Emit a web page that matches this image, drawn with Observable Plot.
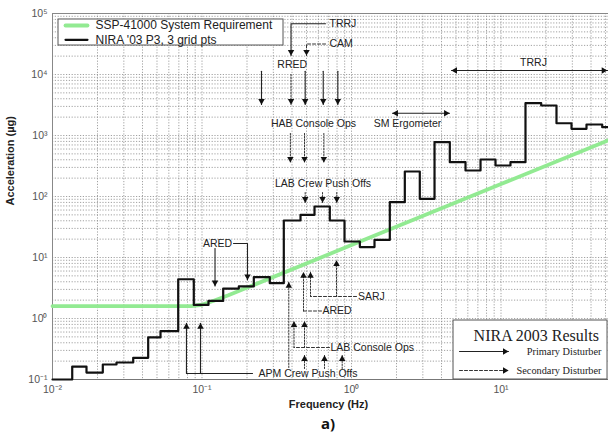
<!DOCTYPE html>
<html><head><meta charset="utf-8">
<script src="https://cdn.jsdelivr.net/npm/d3@7"></script>
<script src="https://cdn.jsdelivr.net/npm/@observablehq/plot@0.6"></script>
<style>
body{margin:0;background:#fff;width:608px;height:439px;overflow:hidden;position:relative;font-family:'Liberation Sans',Arial,sans-serif}
#cap{position:absolute;left:48px;top:413px;width:560px;text-align:center;font:bold 15px 'Noto Sans','DejaVu Sans',sans-serif;line-height:20px;color:#111}
</style></head>
<body><div id="chart"></div><div id="cap">a)</div>
<script>
// ---- data ----
const freqEdges = [0.01, 0.01355, 0.01688, 0.0217, 0.0268, 0.03466, 0.04365, 0.05278, 0.06932, 0.08813,
  0.1105, 0.1386, 0.1763, 0.2221, 0.2841, 0.3525, 0.456, 0.5656, 0.716, 0.8979,
  1.137, 1.425, 1.804, 2.273, 2.863, 3.592, 4.545, 5.788, 7.295, 9.188,
  11.57, 14.58, 18.57, 23.5, 29.62, 37.31, 47.53, 52.36];
const niraLevels = [0.1, 0.163, 0.13, 0.176, 0.19, 0.227, 0.49, 0.62, 4.4, 1.67,
  1.94, 3.1, 3.35, 4.75, 3.8, 40.4, 50, 68.5, 40.4, 18.3,
  14.8, 19.4, 80.7, 257, 91.7, 776, 365, 267, 404, 322,
  365, 3388, 3105, 1588, 1288, 1514, 1368];
const reqFreq = [0.01, 0.085, 0.1, 0.12, 0.15, 1, 10, 52.36];
const reqAccel = [1.6, 1.6, 1.68, 1.95, 2.4, 16, 160, 838];
const xTicks = [0.01, 0.1, 1, 10];
const xTickLabels = ["10⁻²", "10⁻¹", "10⁰", "10¹"];
const yTicks = [0.1, 1, 10, 100, 1000, 1e4, 1e5];
const yTickLabels = ["10⁻¹", "10⁰", "10¹", "10²", "10³", "10⁴", "10⁵"];
const seriesNames = ["SSP-41000 System Requirement", "NIRA '03 P3, 3 grid pts"];

const xDomain = [0.01, 52.36], yDomain = [0.1, 1e5];
const stepRows = freqEdges.map((f, i) => ({f, a: niraLevels[Math.min(i, niraLevels.length - 1)]}));
const reqRows = reqFreq.map((f, i) => ({f, a: reqAccel[i]}));
const gridX = d3.scaleLog().domain(xDomain).ticks();
const gridY = d3.scaleLog().domain(yDomain).ticks();

// ---- annotation geometry (data units: Hz, µg) ----
let pid = 0;
const P = (style, pts) => { pid++; return pts.map(([f, a]) => ({id: pid, style, f, a})); };
const paths = [
  ...P("solid", [[0.67, 67800], [0.394, 67800], [0.394, 20500]]),
  ...P("solid", [[0.25, 11300], [0.25, 3220]]),
  ...P("solid", [[0.49, 11300], [0.49, 3220]]),
  ...P("solid", [[0.647, 11300], [0.647, 3220]]),
  ...P("solid", [[0.81, 11300], [0.81, 3220]]),
  ...P("solid", [[0.1222, 14.05], [0.1222, 3.41]]),
  ...P("solid", [[0.1625, 16.96], [0.2015, 16.96], [0.2015, 4.28]]),
  ...P("solid", [[0.2177, 0.1254], [0.0787, 0.1254], [0.0787, 0.8375]]),
  ...P("solid", [[0.0977, 0.1254], [0.0977, 0.8375]]),
  ...P("solid", [[4.666, 11630], [52.36, 11630]]),
  ...P("solid", [[1.88, 2320], [4.524, 2320]]),
  ...P("dash", [[0.6704, 31620], [0.5, 31620], [0.5, 20500]]),
  ...P("dash", [[0.7123, 0.3346], [0.4125, 0.3346]]),
  ...P("dash", [[0.63, 1.327], [0.4775, 1.327]]),
  ...P("dash", [[1.08, 2.295], [0.5318, 2.295]]),
  ...P("dot", [[0.394, 10000], [0.394, 3220]]),
  ...P("dot", [[0.39, 1080], [0.39, 361]]),
  ...P("dot", [[0.485, 1080], [0.485, 361]]),
  ...P("dot", [[0.653, 1080], [0.653, 361]]),
  ...P("dot", [[0.49, 116], [0.49, 79.7]]),
  ...P("dot", [[0.64, 116], [0.64, 79.7]]),
  ...P("dot", [[0.797, 116], [0.797, 79.7]]),
  ...P("dot", [[0.3806, 0.1573], [0.3806, 3.937]]),
  ...P("dot", [[0.4125, 0.3346], [0.4125, 0.893]]),
  ...P("dot", [[0.4848, 0.3346], [0.4848, 0.893]]),
  ...P("dot", [[0.4775, 1.327], [0.4775, 5.741]]),
  ...P("dot", [[0.5318, 2.295], [0.5318, 5.741]]),
  ...P("dot", [[0.7937, 2.295], [0.7937, 8.93]]),
  ...P("dot", [[0.4848, 0.1514], [0.4848, 0.2474]]),
  ...P("dot", [[0.6598, 0.1514], [0.6598, 0.2474]]),
  ...P("dot", [[0.8665, 0.1514], [0.8665, 0.2474]])
];
const heads = [
  [0.394, 20500, "down"], [0.5, 20500, "down"],
  [0.25, 3220, "down"], [0.394, 3220, "down"], [0.49, 3220, "down"], [0.647, 3220, "down"], [0.81, 3220, "down"],
  [0.39, 361, "down"], [0.485, 361, "down"], [0.653, 361, "down"],
  [0.49, 79.7, "down"], [0.64, 79.7, "down"], [0.797, 79.7, "down"],
  [0.1222, 3.41, "down"], [0.2015, 4.28, "down"],
  [0.0787, 0.8375, "up"], [0.0977, 0.8375, "up"],
  [0.3806, 3.937, "up"], [0.4125, 0.893, "up"], [0.4848, 0.893, "up"],
  [0.4775, 5.741, "up"], [0.5318, 5.741, "up"], [0.7937, 8.93, "up"],
  [0.4848, 0.2474, "up"], [0.6598, 0.2474, "up"], [0.8665, 0.2474, "up"],
  [4.666, 11630, "left"], [51.3, 11630, "right"],
  [1.88, 2320, "left"], [4.524, 2320, "right"]
].map(([f, a, dir]) => ({f, a, dir}));
const labels = [
  [0.7123, 67800, "TRRJ", "start"], [0.7123, 31620, "CAM", "start"],
  [0.4012, 14580, "RRED", "middle"], [0.5569, 1591, "HAB Console Ops", "middle"],
  [0.645, 160, "LAB Crew Push Offs", "middle"], [0.127, 16.96, "ARED", "middle"],
  [0.2387, 0.1254, "APM Crew Push Offs", "start"], [0.7237, 0.3346, "LAB Console Ops", "start"],
  [0.6397, 1.327, "ARED", "start"], [1.105, 2.295, "SARJ", "start"],
  [16.5, 15910, "TRRJ", "middle"], [2.369, 1591, "SM Ergometer", "middle"]
].map(([f, a, t, anchor]) => ({f, a, t, anchor}));
const rot = {down: 180, up: 0, left: -90, right: 90};
const off = {down: [0, -3.6], up: [0, 3.6], left: [3.6, 0], right: [-3.6, 0]};
const headMarks = Object.keys(rot).map(dir => Plot.dot(heads.filter(d => d.dir === dir), {
  x: "f", y: "a", symbol: "triangle", r: 2.4, fill: "#111", stroke: "none",
  rotate: rot[dir], dx: off[dir][0], dy: off[dir][1]
}));
const labelMarks = ["start", "middle"].map(anchor => Plot.text(labels.filter(d => d.anchor === anchor), {
  x: "f", y: "a", text: "t", textAnchor: anchor, fontSize: 10.5, fill: "#222"
}));

const chart = Plot.plot({
  width: 608, height: 414,
  marginLeft: 52, marginRight: 0, marginTop: 13, marginBottom: 35,
  style: {fontFamily: "'Liberation Sans', Arial, sans-serif", background: "#fff"},
  x: {type: "log", domain: xDomain},
  y: {type: "log", domain: yDomain},
  marks: [
    Plot.ruleX(gridX, {stroke: "#8a8a8a", strokeWidth: 0.8, strokeDasharray: "1.2,1.6"}),
    Plot.ruleY(gridY, {stroke: "#8a8a8a", strokeWidth: 0.8, strokeDasharray: "1.2,1.6"}),
    Plot.ruleY([yDomain[1]], {stroke: "#888", strokeWidth: 1}),
    Plot.ruleY([yDomain[0]], {stroke: "#777", strokeWidth: 1.2}),
    Plot.ruleX([xDomain[0]], {stroke: "#888", strokeWidth: 1}),
    Plot.axisX({ticks: xTicks, tickFormat: d => xTickLabels[xTicks.indexOf(d)], tickSize: 0, tickPadding: 6, fontSize: 10.5, color: "#555", label: null}),
    Plot.axisY({ticks: yTicks, tickFormat: d => yTickLabels[yTicks.indexOf(d)], tickSize: 0, tickPadding: 5, fontSize: 10.5, color: "#555", label: null}),
    Plot.text(["Frequency (Hz)"], {text: d => d, frameAnchor: "bottom", dy: 28, dx: -2, fontSize: 11, fontWeight: "bold", fill: "#222"}),
    Plot.text(["Acceleration (µg)"], {text: d => d, frameAnchor: "left", dx: -42, dy: 9, rotate: -90, fontSize: 11, fontWeight: "bold", fill: "#222"}),
    Plot.line(reqRows, {x: "f", y: "a", stroke: "#92ea92", strokeWidth: 3.8}),
    Plot.line(stepRows, {x: "f", y: "a", curve: "step-after", stroke: "#111", strokeWidth: 2.2}),
    Plot.line(paths.filter(d => d.style === "solid"), {x: "f", y: "a", z: "id", stroke: "#222", strokeWidth: 1.1}),
    Plot.line(paths.filter(d => d.style === "dash"), {x: "f", y: "a", z: "id", stroke: "#333", strokeWidth: 1, strokeDasharray: "3,2"}),
    Plot.line(paths.filter(d => d.style === "dot"), {x: "f", y: "a", z: "id", stroke: "#333", strokeWidth: 1, strokeDasharray: "1.5,1.5"}),
    ...headMarks,
    ...labelMarks,
    // legend box
    Plot.rect([{x1: 0.01097, x2: 0.3509, y1: 29870, y2: 79760}], {x1: "x1", x2: "x2", y1: "y1", y2: "y2", fill: "#fff", stroke: "#555"}),
    Plot.line([{f: 0.01222, a: 63530}, {f: 0.01714, a: 63530}], {x: "f", y: "a", stroke: "#92ea92", strokeWidth: 3.8}),
    Plot.line([{f: 0.01222, a: 37060}, {f: 0.01714, a: 37060}], {x: "f", y: "a", stroke: "#111", strokeWidth: 2.2}),
    Plot.text([{f: 0.01939, a: 63530, t: seriesNames[0]}, {f: 0.01939, a: 37060, t: seriesNames[1]}], {x: "f", y: "a", text: "t", textAnchor: "start", fontSize: 12, fill: "#222"}),
    // NIRA results box
    Plot.rect([{x1: 4.812, x2: 51.58, y1: 0.1, y2: 0.927}], {x1: "x1", x2: "x2", y1: "y1", y2: "y2", fill: "#fff", stroke: "#555"}),
    Plot.text([{f: 17.22, a: 0.5264, t: "NIRA 2003 Results"}], {x: "f", y: "a", text: "t", fontSize: 16, fontFamily: "'Liberation Serif','Times New Roman',serif", fill: "#222"}),
    Plot.text([{f: 47.0, a: 0.2877, t: "Primary Disturber"}, {f: 47.0, a: 0.1404, t: "Secondary Disturber"}], {x: "f", y: "a", text: "t", textAnchor: "end", fontSize: 10.3, fontFamily: "'Liberation Serif','Times New Roman',serif", fill: "#222"}),
    Plot.line([{f: 5.277, a: 0.2877}, {f: 11.22, a: 0.2877}], {x: "f", y: "a", stroke: "#222", strokeWidth: 1.1}),
    Plot.line([{f: 5.277, a: 0.1404}, {f: 11.22, a: 0.1404}], {x: "f", y: "a", stroke: "#333", strokeWidth: 1, strokeDasharray: "3,2"}),
    Plot.dot([{f: 11.22, a: 0.2877}, {f: 11.22, a: 0.1404}], {x: "f", y: "a", symbol: "triangle", r: 2.4, fill: "#111", rotate: 90, dx: -3.6})
  ]
});
document.getElementById("chart").append(chart);
</script>
</body></html>
